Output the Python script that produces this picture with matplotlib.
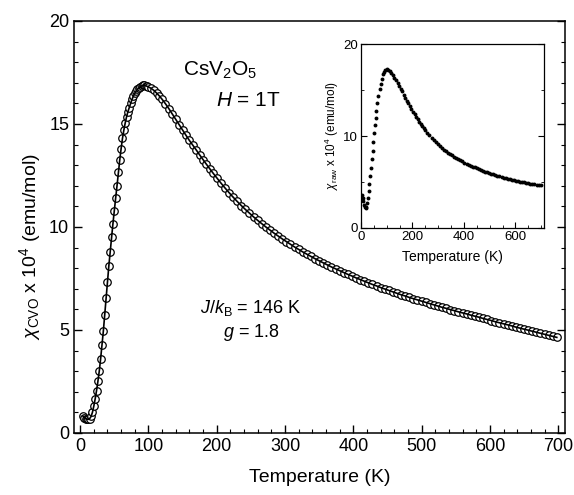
import matplotlib
matplotlib.use("Agg")
import matplotlib.pyplot as plt
from matplotlib.ticker import MultipleLocator

plt.rcParams['font.family'] = ['Liberation Sans', 'DejaVu Sans']
plt.rcParams['mathtext.fontset'] = 'custom'
plt.rcParams['mathtext.rm'] = 'Liberation Sans'
plt.rcParams['mathtext.it'] = 'Liberation Sans:italic'
plt.rcParams['mathtext.bf'] = 'Liberation Sans:bold'

# Main panel: chi_CVO (x 1e-4 emu/mol) vs T (K)
T_main = [4, 6, 8, 10, 12, 14, 16, 18, 20, 22, 24, 26, 28, 30, 32, 34, 36, 38, 40,
          42, 44, 46, 48, 50, 52, 54, 56, 58, 60, 62, 64, 66, 68, 70, 72, 74, 76,
          78, 80, 82, 84, 86, 88, 90, 92, 94, 96, 98, 100,
          104, 108, 112, 116, 120, 125, 130, 135, 140, 145, 150, 155, 160, 165,
          170, 175, 180, 185, 190, 195, 200, 206, 212, 218, 224, 230, 236, 242,
          248, 254, 260, 266, 272, 278, 284, 290, 296, 302, 308, 314, 320, 326,
          332, 338, 344, 350, 356, 362, 368, 374, 380, 386, 392, 398, 404, 410,
          416, 422, 428, 434, 440, 446, 452, 458, 464, 470, 476, 482, 488, 494,
          500, 506, 512, 518, 524, 530, 536, 542, 548, 554, 560, 566, 572, 578,
          584, 590, 596, 602, 608, 614, 620, 626, 632, 638, 644, 650, 656, 662,
          668, 674, 680, 686, 692, 698]
chi_main = [0.82, 0.75, 0.70, 0.67, 0.66, 0.70, 0.80, 1.00, 1.30, 1.65, 2.05, 2.50,
            3.00, 3.60, 4.25, 4.95, 5.75, 6.55, 7.35, 8.10, 8.80, 9.50, 10.15,
            10.80, 11.40, 12.00, 12.65, 13.25, 13.80, 14.30, 14.70, 15.05, 15.35,
            15.60, 15.80, 16.00, 16.20, 16.35, 16.48, 16.60, 16.68, 16.75, 16.80,
            16.85, 16.88, 16.88, 16.86, 16.83, 16.80,
            16.73, 16.63, 16.50, 16.36, 16.20, 15.98, 15.74, 15.48, 15.22, 14.96,
            14.70, 14.45, 14.20, 13.97, 13.74, 13.50, 13.27, 13.04, 12.82, 12.60,
            12.39, 12.14, 11.90, 11.67, 11.45, 11.24, 11.04, 10.85, 10.67, 10.49,
            10.32, 10.16, 10.00, 9.85, 9.70, 9.56, 9.42, 9.29, 9.16, 9.03, 8.91,
            8.79, 8.68, 8.57, 8.46, 8.36, 8.26, 8.16, 8.06, 7.97, 7.88, 7.79, 7.70,
            7.62, 7.53, 7.45, 7.37, 7.29, 7.21, 7.14, 7.06, 6.99, 6.92, 6.85, 6.78,
            6.71, 6.65, 6.58, 6.52, 6.46, 6.40, 6.34, 6.28, 6.22, 6.16, 6.10, 6.05,
            5.99, 5.94, 5.88, 5.83, 5.78, 5.72, 5.67, 5.62, 5.56, 5.51, 5.46, 5.40,
            5.35, 5.30, 5.25, 5.20, 5.14, 5.09, 5.04, 4.99, 4.94, 4.89, 4.84, 4.79,
            4.74, 4.69, 4.64]

# Inset: raw susceptibility
T_raw = [3, 6, 9, 12, 15, 18, 21, 24, 27, 30, 33, 36, 39, 42, 45, 48, 51, 54, 57,
         60, 64, 68, 72, 76, 80, 85, 90, 95, 100, 106, 112, 118, 124, 130, 136,
         142, 148, 154, 160, 166, 172, 178, 184, 190, 196, 202, 208, 214, 220,
         226, 232, 238, 244, 250, 258, 266, 274, 282, 290, 298, 306, 314, 322,
         330, 338, 346, 354, 362, 370, 378, 386, 394, 402, 410, 418, 426, 434,
         442, 450, 458, 466, 474, 482, 490, 498, 506, 514, 522, 530, 538, 546,
         554, 562, 570, 578, 586, 594, 602, 610, 618, 626, 634, 642, 650, 658,
         666, 674, 682, 690, 698]
chi_raw = [3.6, 3.3, 2.9, 2.5, 2.25, 2.15, 2.3, 2.7, 3.3, 4.0, 4.75, 5.6, 6.5,
           7.45, 8.4, 9.35, 10.3, 11.15, 11.95, 12.7, 13.6, 14.4, 15.1, 15.7,
           16.2, 16.7, 17.0, 17.2, 17.25, 17.2, 17.05, 16.85, 16.6, 16.35, 16.05,
           15.75, 15.45, 15.15, 14.85, 14.5, 14.18, 13.85, 13.55, 13.25, 12.95,
           12.66, 12.38, 12.1, 11.83, 11.57, 11.32, 11.08, 10.85, 10.62, 10.33,
           10.06, 9.8, 9.55, 9.31, 9.08, 8.88, 8.7, 8.52, 8.35, 8.19, 8.04, 7.89,
           7.75, 7.61, 7.48, 7.35, 7.23, 7.11, 7.0, 6.89, 6.78, 6.68, 6.58, 6.49,
           6.4, 6.31, 6.22, 6.14, 6.06, 5.98, 5.9, 5.83, 5.76, 5.69, 5.62, 5.55,
           5.48, 5.42, 5.36, 5.3, 5.25, 5.2, 5.15, 5.1, 5.05, 5.0, 4.96, 4.91,
           4.87, 4.83, 4.79, 4.75, 4.72, 4.69, 4.66]

fig = plt.figure(figsize=(5.74, 4.95), dpi=100)
ax = fig.add_axes([0.1289, 0.1253, 0.8554, 0.8323])

ax.plot(T_main, chi_main, 'o', ms=5.4, mfc='white', mec='black', mew=0.9, zorder=2)
ax.plot(T_main, chi_main, '-', color='black', lw=1.2, zorder=3)

ax.set_xlim(-9, 710)
ax.set_ylim(0, 20)
ax.xaxis.set_major_locator(MultipleLocator(100))
ax.xaxis.set_minor_locator(MultipleLocator(20))
ax.yaxis.set_major_locator(MultipleLocator(5))
ax.yaxis.set_minor_locator(MultipleLocator(1))
ax.tick_params(which='both', direction='in', right=True, top=False, labelsize=13)
ax.tick_params(which='major', length=6, width=1.0)
ax.tick_params(which='minor', length=3, width=0.8)
for s in ax.spines.values():
    s.set_linewidth(1.1)

ax.set_xlabel('Temperature (K)', fontsize=14, labelpad=10)
fig.text(30 / 574, 1 - 247 / 495, r'$\chi_{\rm CVO}$ x 10$^{4}$ (emu/mol)',
         rotation=90, ha='center', va='center', fontsize=14)

ax.text(205, 17.6, r'CsV$_2$O$_5$', ha='center', va='center', fontsize=15)
ax.text(246, 16.15, r'$H$ = 1T', ha='center', va='center', fontsize=15)
ax.text(249, 6.08, r'$J/k_{\rm B}$ = 146 K', ha='center', va='center', fontsize=13)
ax.text(251, 4.87, r'$g$ = 1.8', ha='center', va='center', fontsize=13)

# Inset
axi = fig.add_axes([0.6289, 0.5394, 0.3188, 0.3717])
axi.plot(T_raw, chi_raw, 'o', ms=2.8, color='black', mew=0)
axi.set_xlim(0, 711)
axi.set_ylim(0, 20)
axi.xaxis.set_major_locator(MultipleLocator(200))
axi.xaxis.set_minor_locator(MultipleLocator(50))
axi.yaxis.set_major_locator(MultipleLocator(10))
axi.yaxis.set_minor_locator(MultipleLocator(5))
axi.tick_params(which='both', direction='in', right=True, labelsize=9.5, pad=2)
axi.tick_params(which='major', length=4, width=0.8)
axi.tick_params(which='minor', length=2, width=0.6)
for s in axi.spines.values():
    s.set_linewidth(0.9)
axi.set_xlabel('Temperature (K)', fontsize=10, labelpad=5)
axi.set_ylabel(r'$\chi_{\rm raw}$ x 10$^{4}$ (emu/mol)', fontsize=8.5, labelpad=2)

fig.savefig('out.png', dpi=100, facecolor='white')
